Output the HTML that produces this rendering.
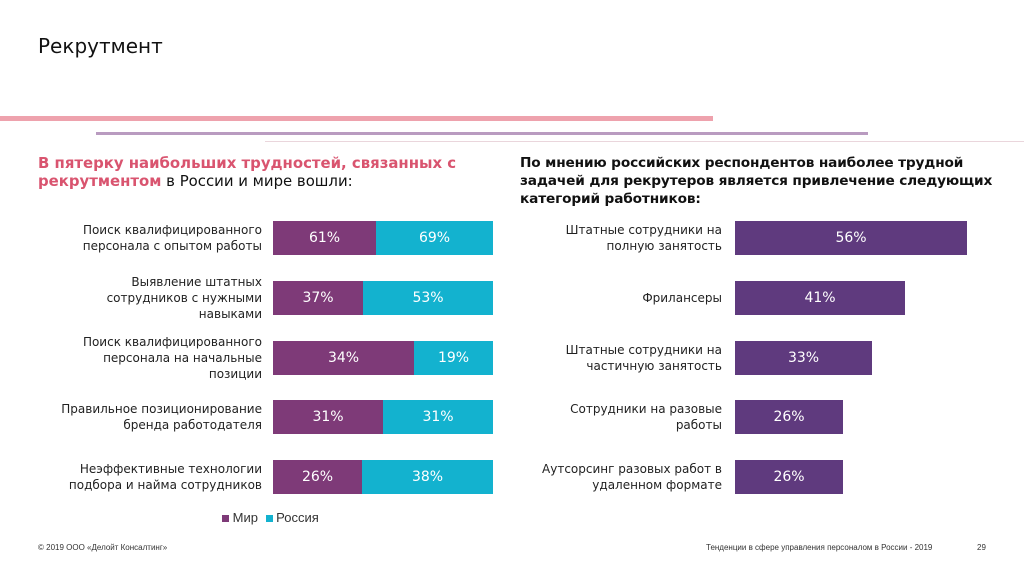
<!DOCTYPE html>
<html><head><meta charset="utf-8">
<style>
body{margin:0;width:1024px;height:574px;background:#fff;font-family:"Liberation Sans","DejaVu Sans",sans-serif;position:relative;overflow:hidden}
.abs{position:absolute}
</style></head><body>
<div class="abs" style="left:38px;top:34px;font-size:20px;color:#111;font-family:'DejaVu Sans',sans-serif">Рекрутмент</div>
<div class="abs" style="left:0;top:116px;width:713px;height:5px;background:#eea2ad"></div>
<div class="abs" style="left:96px;top:132px;width:772px;height:3px;background:#b99bc0"></div>
<div class="abs" style="left:265px;top:141px;width:759px;height:1px;background:#ead6dc"></div>
<div class="abs" style="left:38px;top:154px;font-size:14.9px;line-height:18px;color:#111;font-family:'DejaVu Sans',sans-serif;white-space:nowrap"><b style="color:#d9546f">В пятерку наибольших трудностей, связанных с<br>рекрутментом</b> в России и мире вошли:</div>
<div class="abs" style="left:520px;top:154px;font-size:13.7px;line-height:18px;color:#111;font-weight:bold;font-family:'DejaVu Sans',sans-serif;white-space:nowrap;letter-spacing:-0.15px">По мнению российских респондентов наиболее трудной<br>задачей для рекрутеров является привлечение следующих<br>категорий работников:</div>
<div class="abs" style="left:222px;top:510px;font-size:13px;color:#333">
<span><span style="display:inline-block;width:7px;height:7px;background:#7e3a78"></span> Мир</span>
<span style="margin-left:4px"><span style="display:inline-block;width:7px;height:7px;background:#13b2cf"></span> Россия</span></div>
<div class="abs" style="left:38px;top:543px;font-size:8px;color:#333">© 2019 ООО «Делойт Консалтинг»</div>
<div class="abs" style="left:706px;top:543px;font-size:8px;color:#333">Тенденции в сфере управления персоналом в России - 2019</div>
<div class="abs" style="left:977px;top:543px;font-size:8px;color:#333">29</div>
<script>
const leftCats=[["Поиск квалифицированного","персонала с опытом работы"],["Выявление штатных","сотрудников с нужными","навыками"],["Поиск квалифицированного","персонала на начальные","позиции"],["Правильное позиционирование","бренда работодателя"],["Неэффективные технологии","подбора и найма сотрудников"]];
const mirVals=[61,37,34,31,26];
const rusVals=[69,53,19,31,38];
const rightCats=[["Штатные сотрудники на","полную занятость"],["Фрилансеры"],["Штатные сотрудники на","частичную занятость"],["Сотрудники на разовые","работы"],["Аутсорсинг разовых работ в","удаленном формате"]];
const rightVals=[56,41,33,26,26];
const rowY=[221,281,341,400,460];
const LBL="position:absolute;font-size:12px;color:#222;text-align:right;line-height:16px;white-space:nowrap;font-family:'DejaVu Sans',sans-serif;";
const BAR="position:absolute;height:34px;color:#fff;font-size:14px;display:flex;align-items:center;justify-content:center;font-family:'DejaVu Sans',sans-serif;";
function mk(css,txt){const e=document.createElement('div');e.style.cssText=css;if(txt!==undefined)e.textContent=txt;document.body.appendChild(e);return e;}
const L0=273,LW=220;
leftCats.forEach((c,i)=>{
 const y=rowY[i];const h=c.length*16;
 const l=mk(LBL+'right:'+(1024-262)+'px;top:'+(y+17-h/2)+'px');
 l.innerHTML=c.join('<br>');
 
 
 const tot=mirVals[i]+rusVals[i];const w1=Math.round(LW*mirVals[i]/tot);
 const a=mk(BAR+'background:#7e3a78;left:'+L0+'px;top:'+y+'px;width:'+w1+'px',mirVals[i]+'%');
 
 
 const b=mk(BAR+'background:#13b2cf;left:'+(L0+w1)+'px;top:'+y+'px;width:'+(LW-w1)+'px',rusVals[i]+'%');
 
 
});
const R0=735,RS=232/56;
rightCats.forEach((c,i)=>{
 const y=rowY[i];const h=c.length*16;
 const l=mk(LBL+'right:'+(1024-722)+'px;top:'+(y+17-h/2)+'px');
 l.innerHTML=c.join('<br>');
 
 
 const a=mk(BAR+'background:#5f3a7e;left:'+R0+'px;top:'+y+'px;width:'+Math.round(rightVals[i]*RS)+'px',rightVals[i]+'%');
 
 
});
</script>
</body></html>
